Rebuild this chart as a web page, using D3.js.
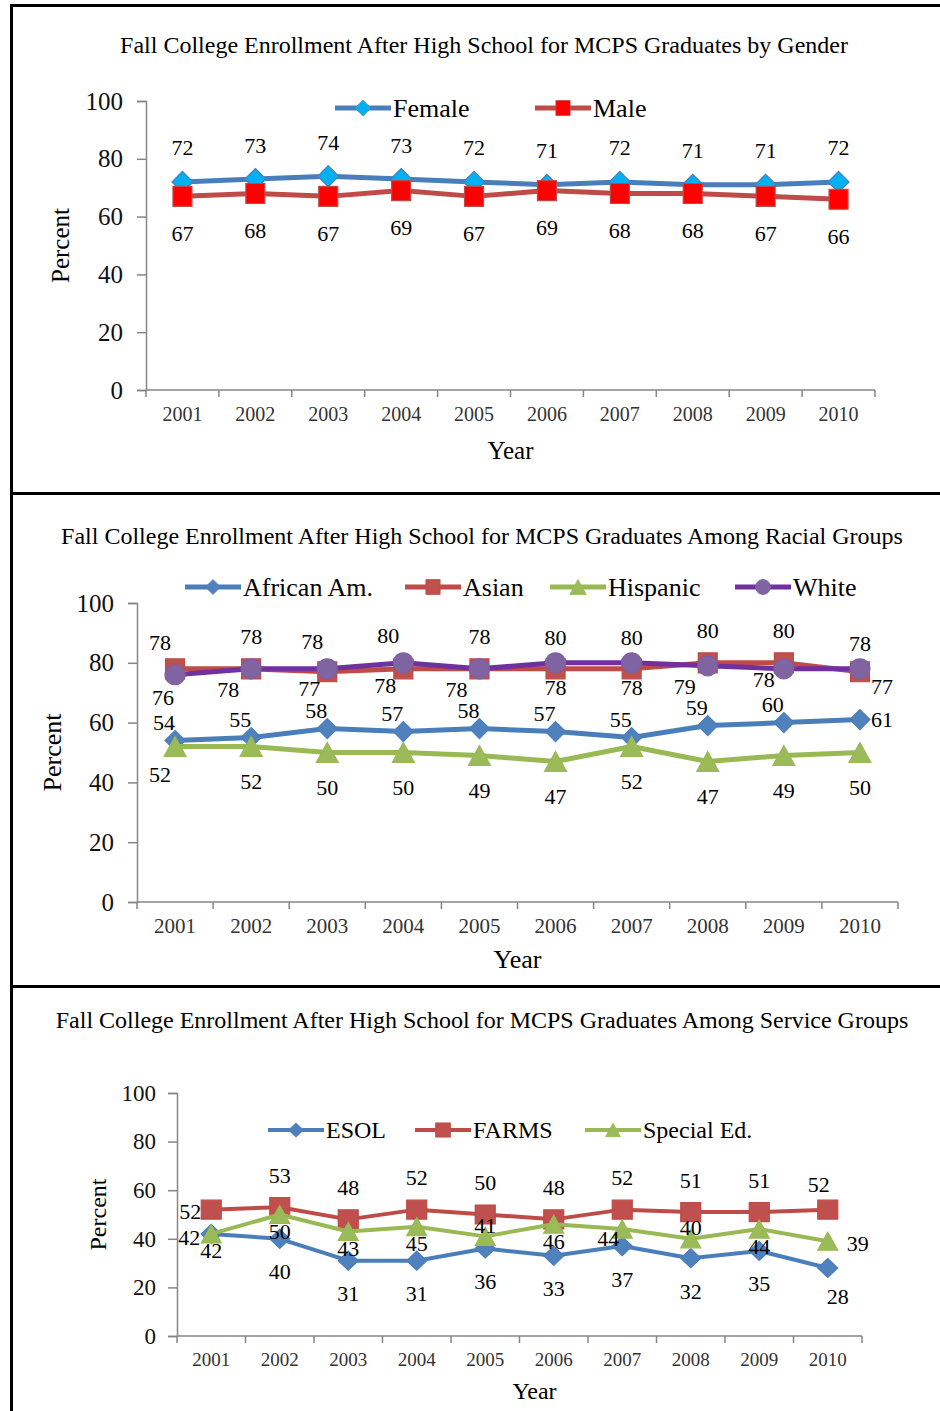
<!DOCTYPE html>
<html>
<head>
<meta charset="utf-8">
<script src="https://cdn.jsdelivr.net/npm/d3@7"></script>
<style>
  html, body { margin: 0; padding: 0; background: #fff; }
  svg { display: block; font-family: "Liberation Serif", "Times New Roman", serif; }
</style>
</head>
<body>
<svg id="chart" width="940" height="1411"></svg>
<script>
// ---------------- DATA ----------------
const years = ["2001","2002","2003","2004","2005","2006","2007","2008","2009","2010"];
const yTickValues = [0, 20, 40, 60, 80, 100];

const genderTitle = "Fall College Enrollment After High School for MCPS Graduates by Gender";
const femaleValues = [72, 73, 74, 73, 72, 71, 72, 71, 71, 72];
const maleValues   = [67, 68, 67, 69, 67, 69, 68, 68, 67, 66];

const raceTitle = "Fall College Enrollment After High School for MCPS Graduates Among Racial Groups";
const africanAmValues = [54, 55, 58, 57, 58, 57, 55, 59, 60, 61];
const asianValues     = [78, 78, 77, 78, 78, 78, 78, 80, 80, 77];
const hispanicValues  = [52, 52, 50, 50, 49, 47, 52, 47, 49, 50];
const whiteValues     = [76, 78, 78, 80, 78, 80, 80, 79, 78, 78];

const serviceTitle = "Fall College Enrollment After High School for MCPS Graduates Among Service Groups";
const esolValues      = [42, 40, 31, 31, 36, 33, 37, 32, 35, 28];
const farmsValues     = [52, 53, 48, 52, 50, 48, 52, 51, 51, 52];
const specialEdValues = [42, 50, 43, 45, 41, 46, 44, 40, 44, 39];

// ---------------- STYLE / LAYOUT ----------------
// label placement codes per point (style only)
const place = {
  female:  ["a","a","a","a","a","a","a","a","a","a"],
  male:    ["b","b","b","b","b","b","b","b","b","b"],
  african: ["al","al","al","al","al","al","al","al","al","r"],
  asian:   ["al","a","bl","bl","a","b","b","a","a","br"],
  hispanic:["bs","b","b","b","b","b","b","b","b","b"],
  white:   ["bs","bl","al","al","bl","a","a","bl","bt","a"],
  esol:    ["l","b","b","b","b","b","b","b","b","br"],
  farms:   ["l","a","a","a","a","a","a","a","a","as"],
  sped:    ["b","b","b","b","at","b","bs","at","b","r"]
};

const svg = d3.select("#chart");

// Frame lines
const frame = svg.append("g").attr("stroke", "#000").attr("stroke-width", 3);
frame.append("line").attr("x1", 10).attr("x2", 940).attr("y1", 5.5).attr("y2", 5.5);
frame.append("line").attr("x1", 11.5).attr("x2", 11.5).attr("y1", 4).attr("y2", 1411);
frame.append("line").attr("x1", 10).attr("x2", 940).attr("y1", 493.5).attr("y2", 493.5);
frame.append("line").attr("x1", 10).attr("x2", 940).attr("y1", 986.5).attr("y2", 986.5);

function markerPath(shape, s) {
  switch (shape) {
    case "diamond": return `M0,${-s.h} L${s.w},0 L0,${s.h} L${-s.w},0 Z`;
    case "square":  return `M${-s.w},${-s.h} H${s.w} V${s.h} H${-s.w} Z`;
    case "triangle":return `M0,${-s.h} L${s.w},${s.h} L${-s.w},${s.h} Z`;
    case "circle":  return d3.arc()({innerRadius:0, outerRadius:s.w, startAngle:0, endAngle:2*Math.PI});
  }
}

function drawPanel(cfg) {
  const g = svg.append("g");
  const x = d3.scaleBand().domain(years).range([cfg.left, cfg.right]);
  const y = d3.scaleLinear().domain([0, 100]).range([cfg.bottom, cfg.top]);

  g.append("text").attr("x", cfg.titleX).attr("y", cfg.titleY)
    .attr("text-anchor", "middle").attr("dominant-baseline", "central")
    .attr("font-size", 24).attr("fill", "#000").text(cfg.title);

  const yAxis = d3.axisLeft(y).tickValues(yTickValues).tickSize(9).tickPadding(cfg.yPad);
  const ya = g.append("g").attr("transform", `translate(${cfg.left},0)`).call(yAxis);
  ya.attr("font-family", null);
  ya.select(".domain").attr("stroke", "#868686").attr("stroke-width", 1.5);
  ya.selectAll(".tick line").attr("stroke", "#868686").attr("stroke-width", 1.5);
  ya.selectAll(".tick text").attr("font-size", cfg.yFont).attr("fill", "#111")
    .attr("font-family", "Liberation Serif, serif");

  const xa = g.append("g").attr("transform", `translate(0,${cfg.bottom})`);
  xa.append("line").attr("x1", cfg.left).attr("x2", cfg.right).attr("stroke", "#868686").attr("stroke-width", 1.5);
  const bounds = years.map(d => x(d)).concat([cfg.right]);
  xa.selectAll("line.tk").data(bounds).enter().append("line").attr("class","tk")
    .attr("x1", d => d).attr("x2", d => d).attr("y1", 0).attr("y2", 7)
    .attr("stroke", "#868686").attr("stroke-width", 1.5);
  xa.selectAll("text").data(years).enter().append("text")
    .attr("x", d => x(d) + x.bandwidth()/2).attr("y", cfg.xLabOff)
    .attr("text-anchor", "middle").attr("dominant-baseline", "central")
    .attr("font-size", cfg.xFont).attr("fill", "#333").text(d => d);

  g.append("text").attr("x", (cfg.left + cfg.right)/2 + cfg.yearDx).attr("y", cfg.yearY)
    .attr("text-anchor", "middle").attr("dominant-baseline", "central")
    .attr("font-size", cfg.axisFont).attr("fill", "#000").text("Year");
  g.append("text").attr("transform", `translate(${cfg.pctX},${(cfg.top+cfg.bottom)/2}) rotate(-90)`)
    .attr("text-anchor", "middle").attr("dominant-baseline", "central")
    .attr("font-size", cfg.axisFont).attr("fill", "#000").text("Percent");

  const line = d3.line().x((d, i) => x(years[i]) + x.bandwidth()/2).y(d => y(d));
  cfg.series.forEach(s => {
    g.append("path").datum(s.values).attr("d", line)
      .attr("fill", "none").attr("stroke", s.line).attr("stroke-width", cfg.lw)
      .attr("stroke-linejoin", "round");
    g.selectAll(null).data(s.values).enter().append("path")
      .attr("transform", (d, i) => `translate(${x(years[i]) + x.bandwidth()/2},${y(d)})`)
      .attr("d", markerPath(s.shape, s.size))
      .attr("fill", s.fill).attr("stroke", s.mstroke).attr("stroke-width", 1.2);
  });

  cfg.series.forEach(s => {
    const off = Object.assign({
      a: [0, -s.up], b: [0, s.down], al: [-13, -s.up], bl: [-22, s.down]
    }, s.special || {});
    g.selectAll(null).data(s.values).enter().append("text")
      .attr("x", (d, i) => x(years[i]) + x.bandwidth()/2 + off[s.place[i]][0])
      .attr("y", (d, i) => y(d) + off[s.place[i]][1])
      .attr("text-anchor", "middle").attr("dominant-baseline", "central")
      .attr("font-size", cfg.labFont).attr("fill", "#000").text(d => d);
  });

  cfg.series.forEach((s, k) => {
    const lx = cfg.legendX[k];
    const lg = g.append("g").attr("transform", `translate(${lx},${cfg.legendY})`);
    lg.append("line").attr("x1", 0).attr("x2", 56).attr("stroke", s.line).attr("stroke-width", cfg.lw);
    lg.append("path").attr("transform", "translate(28,0) scale(0.75)")
      .attr("d", markerPath(s.shape, s.size)).attr("fill", s.fill).attr("stroke", s.mstroke);
    lg.append("text").attr("x", 58).attr("y", 0).attr("dominant-baseline", "central")
      .attr("font-size", cfg.legFont).attr("fill", "#000").text(s.name);
  });
}

drawPanel({
  title: genderTitle, titleX: 484, titleY: 45,
  left: 146, right: 875, top: 101, bottom: 390,
  yPad: 14, yFont: 25, xFont: 20, xLabOff: 24, axisFont: 25,
  yearY: 450, yearDx: 0, pctX: 60, labFont: 22, lw: 5,
  legendY: 108, legendX: [335, 535], legFont: 26,
  series: [
    { name: "Female", values: femaleValues, place: place.female, up: 34, down: 34,
      line: "#4A7EBB", fill: "#00B0F0", mstroke: "#4A7EBB", shape: "diamond", size: {w: 10.5, h: 10.5} },
    { name: "Male", values: maleValues, place: place.male, up: 37, down: 37,
      line: "#BE4B48", fill: "#FF0000", mstroke: "#BE4B48", shape: "square", size: {w: 9.5, h: 10} }
  ]
});

drawPanel({
  title: raceTitle, titleX: 482, titleY: 536,
  left: 137, right: 898, top: 603, bottom: 902,
  yPad: 14, yFont: 25, xFont: 21, xLabOff: 24, axisFont: 26,
  yearY: 959, yearDx: 0, pctX: 52, labFont: 22, lw: 5,
  legendY: 587, legendX: [185, 405, 550, 735], legFont: 26,
  series: [
    { name: "African Am.", values: africanAmValues, place: place.african, up: 18, down: 18,
      special: { al: [-11, -18], r: [22, 0] },
      line: "#4A7EBB", fill: "#4F81BD", mstroke: "#4A7EBB", shape: "diamond", size: {w: 10, h: 10} },
    { name: "Asian", values: asianValues, place: place.asian, up: 32, down: 19,
      special: { al: [-15, -26], bl: [-18, 17], br: [22, 15] },
      line: "#BE4B48", fill: "#C0504D", mstroke: "#BE4B48", shape: "square", size: {w: 9.5, h: 10} },
    { name: "Hispanic", values: hispanicValues, place: place.hispanic, up: 35, down: 35,
      special: { bs: [-15, 28] },
      line: "#98B954", fill: "#9BBB59", mstroke: "#98B954", shape: "triangle", size: {w: 11, h: 10} },
    { name: "White", values: whiteValues, place: place.white, up: 25, down: 21,
      special: { bs: [-12, 23], al: [-15, -27], bl: [-23, 21], bt: [-20, 11] },
      line: "#7030A0", fill: "#8064A2", mstroke: "#7D60A0", shape: "circle", size: {w: 10, h: 10} }
  ]
});

drawPanel({
  title: serviceTitle, titleX: 482, titleY: 1020,
  left: 177, right: 862, top: 1093, bottom: 1336,
  yPad: 12, yFont: 23, xFont: 19, xLabOff: 23, axisFont: 24,
  yearY: 1391, yearDx: 15, pctX: 98, labFont: 22, lw: 4,
  legendY: 1130, legendX: [268, 415, 585], legFont: 24,
  series: [
    { name: "ESOL", values: esolValues, place: place.esol, up: 33, down: 33,
      special: { l: [-22, 4], br: [10, 29] },
      line: "#4A7EBB", fill: "#4F81BD", mstroke: "#4A7EBB", shape: "diamond", size: {w: 10, h: 9.5} },
    { name: "FARMS", values: farmsValues, place: place.farms, up: 32, down: 32,
      special: { l: [-21, 2], as: [-9, -25] },
      line: "#BE4B48", fill: "#C0504D", mstroke: "#BE4B48", shape: "square", size: {w: 10, h: 9.5} },
    { name: "Special Ed.", values: specialEdValues, place: place.sped, up: 17, down: 17,
      special: { at: [0, -11], bs: [-14, 9], r: [30, 2] },
      line: "#98B954", fill: "#9BBB59", mstroke: "#98B954", shape: "triangle", size: {w: 10, h: 9} }
  ]
});
</script>
</body>
</html>
